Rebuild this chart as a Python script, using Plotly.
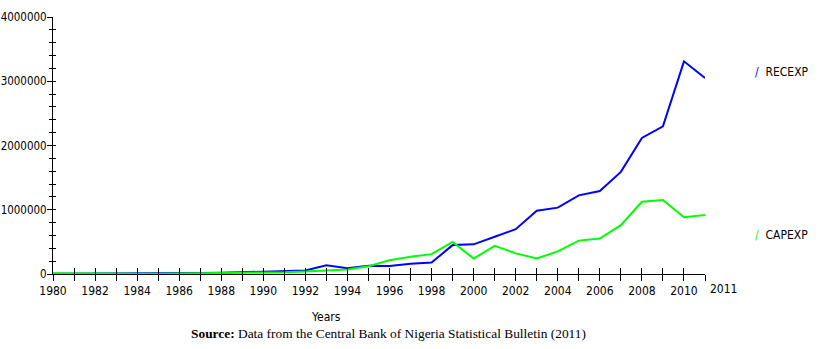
import plotly.graph_objects as go

years = list(range(1980, 2012))
recexp = [4805.2, 4846.7, 5506.0, 4750.8, 5827.5, 7576.4, 7696.9, 15646.2, 19409.4, 25994.2,
          36219.6, 38243.5, 53034.1, 136727.1, 89974.9, 127629.8, 124491.3, 158563.5, 178097.8, 449662.4,
          461600.0, 579300.0, 696800.0, 984300.0, 1032700.0, 1223700.0, 1290200.0, 1589300.0, 2117400.0,
          2298000.0, 3310000.0, 3050000.0]
capexp = [10163.4, 6567.0, 6417.2, 4885.7, 4100.1, 5464.7, 8526.8, 6372.5, 8340.1, 15034.1,
          24048.6, 28340.9, 39763.3, 54501.8, 70918.3, 121138.3, 212926.3, 269651.7, 309015.6, 498027.6,
          239450.9, 438696.5, 321378.1, 241688.3, 351300.0, 519500.0, 552385.8, 759323.0, 1123458.0,
          1152796.5, 883874.5, 918548.9]
series_names = ["RECEXP", "CAPEXP"]
series_colors = ["#0000ff", "#00ff00"]
x_tick_vals = years
x_tick_text = [str(y) if (y % 2 == 0 and y <= 2010) else "" for y in years]
y_tick_vals = [0, 1000000, 2000000, 3000000, 4000000]
y_tick_text = ["0", "1000000", "2000000", "3000000", "4000000"]

FONT = "Liberation Sans Narrow, DejaVu Sans Condensed, Arial Narrow, Liberation Sans, Arial, sans-serif"

fig = go.Figure()
for name, vals, col in zip(series_names, [recexp, capexp], series_colors):
    fig.add_trace(go.Scatter(x=years, y=vals, mode="lines", name=name,
                             line=dict(color=col, width=2), showlegend=False))

axis_common = dict(showgrid=False, zeroline=False, showline=True, linecolor="black", linewidth=1,
                   automargin=False)

fig.update_layout(
    width=819, height=349,
    margin=dict(l=53, r=114, t=17, b=75),
    paper_bgcolor="white", plot_bgcolor="white",
    font=dict(family=FONT, size=12, color="black"),
    xaxis=dict(range=[1980, 2011], tickmode="array", tickvals=x_tick_vals, ticktext=x_tick_text,
               ticks="outside", ticklen=6, tickcolor="black", tickwidth=1,
               layer="below traces", **axis_common),
    xaxis2=dict(range=[1980, 2011], overlaying="x", tickmode="array", tickvals=x_tick_vals,
                ticktext=["" for _ in years], ticks="inside", ticklen=6, tickcolor="black",
                side="bottom", showline=False, showgrid=False, zeroline=False, anchor="y",
                automargin=False),
    yaxis=dict(range=[0, 4000000], tickmode="array", tickvals=y_tick_vals, ticktext=y_tick_text,
               ticks="outside", ticklen=5, tickcolor="black", ticklabelstandoff=-2,
               tickfont=dict(size=11.5),
               minor=dict(tickmode="linear", dtick=200000, ticks="outside", ticklen=3, tickcolor="black"),
               layer="below traces", **axis_common),
    yaxis2=dict(range=[0, 4000000], overlaying="y", side="left", tickmode="array", tickvals=y_tick_vals,
                ticktext=["" for _ in y_tick_vals], ticks="inside", ticklen=3, tickcolor="black",
                minor=dict(tickmode="linear", dtick=200000, ticks="inside", ticklen=3, tickcolor="black"),
                showline=False, showgrid=False, zeroline=False, anchor="x", automargin=False),
)
fig.add_trace(go.Scatter(x=[None], y=[None], xaxis="x2", yaxis="y2", showlegend=False, hoverinfo="skip"))

# x-axis title, placed left of centre as in the reference
fig.add_annotation(x=0.5, y=0, xref="paper", yref="paper", xanchor="center", yanchor="middle",
                   text="Years", showarrow=False, font=dict(size=12), xshift=-53, yshift=-43)

fig.add_annotation(x=2011, y=0, xref="x", yref="paper", text="2011", showarrow=False,
                   xanchor="left", yanchor="top", xshift=3, yshift=-6, font=dict(size=12))

fig.add_annotation(x=1.0, y=3140000, xref="paper", yref="y", xanchor="left", yanchor="middle",
                   xshift=48, showarrow=False,
                   text="<span style='color:#0000ff'>/</span>&nbsp;&nbsp;RECEXP", font=dict(size=12))
fig.add_annotation(x=1.0, y=600000, xref="paper", yref="y", xanchor="left", yanchor="middle",
                   xshift=48, showarrow=False,
                   text="<span style='color:#00ff00'>/</span>&nbsp;&nbsp;CAPEXP", font=dict(size=12))

fig.add_annotation(x=0.5, y=0, xref="paper", yref="paper", xanchor="center", yanchor="middle",
                   text="<b>Source:</b> Data from the Central Bank of Nigeria Statistical Bulletin (2011)",
                   showarrow=False, font=dict(family="Liberation Serif, Times New Roman, serif", size=13.4),
                   yshift=-59, xshift=9)

fig.write_html("out.html", config={"displayModeBar": False},
               post_script="document.body.style.margin='0';document.body.style.overflow='hidden';")
